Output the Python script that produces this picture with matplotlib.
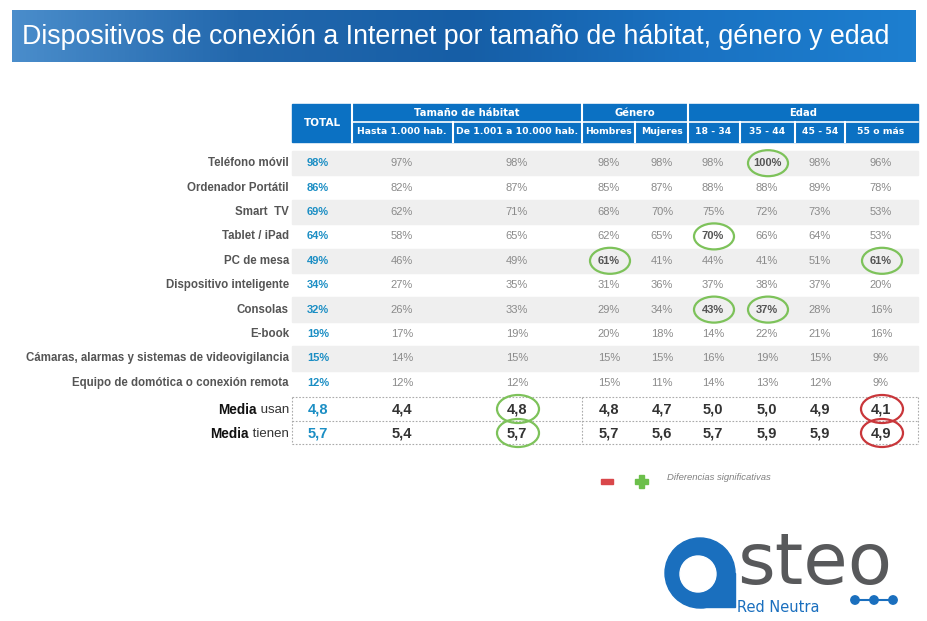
import numpy as np
import matplotlib.pyplot as plt
from matplotlib.patches import Rectangle, Ellipse, Circle
from matplotlib.colors import LinearSegmentedColormap

# Datos de la tabla
title = 'Dispositivos de conexión a Internet por tamaño de hábitat, género y edad'
groups = ['Tamaño de hábitat', 'Género', 'Edad']
subcols = ['Hasta 1.000 hab.', 'De 1.001 a 10.000 hab.', 'Hombres', 'Mujeres',
           '18 - 34', '35 - 44', '45 - 54', '55 o más']
rows = ['Teléfono móvil', 'Ordenador Portátil', 'Smart  TV', 'Tablet / iPad', 'PC de mesa',
        'Dispositivo inteligente', 'Consolas', 'E-book',
        'Cámaras, alarmas y sistemas de videovigilancia', 'Equipo de domótica o conexión remota']
total = [98, 86, 69, 64, 49, 34, 32, 19, 15, 12]
hasta_1000 = [97, 82, 62, 58, 46, 27, 26, 17, 14, 12]
de_1001 = [98, 87, 71, 65, 49, 35, 33, 19, 15, 12]
hombres = [98, 85, 68, 62, 61, 31, 29, 20, 15, 15]
mujeres = [98, 87, 70, 65, 41, 36, 34, 18, 15, 11]
edad_18_34 = [98, 88, 75, 70, 44, 37, 43, 14, 16, 14]
edad_35_44 = [100, 88, 72, 66, 41, 38, 37, 22, 19, 13]
edad_45_54 = [98, 89, 73, 64, 51, 37, 28, 21, 15, 12]
edad_55 = [96, 78, 53, 53, 61, 20, 16, 16, 9, 9]
media_usan = [4.8, 4.4, 4.8, 4.8, 4.7, 5.0, 5.0, 4.9, 4.1]
media_tienen = [5.7, 5.4, 5.7, 5.7, 5.6, 5.7, 5.9, 5.9, 4.9]
# diferencias significativas: (fila, columna, signo)
marcas = [(0, 6, '+'), (3, 5, '+'), (4, 3, '+'), (4, 8, '+'), (6, 5, '+'), (6, 6, '+'),
          (10, 2, '+'), (11, 2, '+'), (10, 8, '-'), (11, 8, '-')]

data = np.array([total, hasta_1000, de_1001, hombres, mujeres,
                 edad_18_34, edad_35_44, edad_45_54, edad_55]).T

# Geometria (pixeles)
edges = [292, 352, 453, 582, 635, 688, 740, 795, 845, 918]
centers = [318, 402, 517, 609, 662, 713, 767, 820, 881]
row_top, row_h = 151, 24.4
blue = '#0b71c3'
logo_blue = '#1a6fbe'

fig = plt.figure(figsize=(9.28, 6.21), dpi=100)
ax = fig.add_axes([0, 0, 1, 1])
ax.set_xlim(0, 928)
ax.set_ylim(621, 0)
ax.axis('off')

# Banner del titulo
cmap = LinearSegmentedColormap.from_list('banner', ['#4a8dcb', '#2368ad', '#165ea6', '#1a72c2', '#1d7fd0'])
ax.imshow(np.linspace(0, 1, 256)[None, :], cmap=cmap, aspect='auto',
          extent=(12, 916, 62, 10), zorder=1)
t_title = ax.text(22, 37, title, color='white', fontsize=16, family='Liberation Sans',
                  ha='left', va='center', zorder=2)

# Cabecera
ax.add_patch(Rectangle((edges[0], 104), edges[-1] - edges[0], 38, color=blue, zorder=1))
ax.text(322, 123, 'TOTAL', color='white', fontsize=7.5, fontweight='bold',
        ha='center', va='center', family='DejaVu Sans')
for g, (a, b) in zip(groups, [(352, 582), (582, 688), (688, 918)]):
    ax.text((a + b) / 2, 113, g, color='white', fontsize=7.2, fontweight='bold',
            ha='center', va='center', family='DejaVu Sans')
for s, x in zip(subcols, centers[1:]):
    ax.text(x, 132, s, color='white', fontsize=6.7, fontweight='bold',
            ha='center', va='center', family='DejaVu Sans')
ax.plot([352, 918], [122, 122], color='white', lw=1.2)
for x in edges[1:-1]:
    top = 104 if x in (352, 582, 688) else 122
    ax.plot([x, x], [top, 142], color='white', lw=1.5)

# Filas de datos
for i, lab in enumerate(rows):
    yc = row_top + row_h * (i + 0.5)
    if i % 2 == 0:
        ax.add_patch(Rectangle((292, row_top + row_h * i), 626, row_h, color='#efefef', zorder=0))
    ax.text(289, yc, lab, color='#555555', fontsize=8.3, fontweight='bold',
            ha='right', va='center', family='Liberation Sans')
    for j, v in enumerate(data[i]):
        circled = any(m[0] == i and m[1] == j for m in marcas)
        if j == 0:
            c, w = '#1b8ec4', 'bold'
        elif circled:
            c, w = '#555555', 'bold'
        else:
            c, w = '#8a8a8a', 'normal'
        ax.text(centers[j], yc, f'{v}%', color=c, fontsize=8, fontweight=w,
                ha='center', va='center', family='Liberation Sans')

# Medias
media_rows = [('usan', media_usan), ('tienen', media_tienen)]
for k, (word, vals) in enumerate(media_rows):
    yc = 409 + 24 * k
    tw = ax.text(289, yc + 1, ' ' + word, color='#333333', fontsize=9.5, ha='right', va='center',
                 family='Liberation Sans')
    ax.annotate('Media', xy=(0, 0.5), xycoords=tw, ha='right', va='center',
                color='#111111', fontsize=9.8, fontweight='bold', family='Liberation Sans')
    for j, v in enumerate(vals):
        c = '#1b8ec4' if j == 0 else '#333333'
        ax.text(centers[j], yc, f'{v:.1f}'.replace('.', ','), color=c, fontsize=10.5,
                fontweight='bold', ha='center', va='center', family='Liberation Sans')
dash = dict(color='#aaaaaa', lw=0.8, ls=(0, (1.5, 1.5)))
for y in (397, 421, 444):
    ax.plot([292, 918], [y, y], **dash)
for x in (292, 582, 918):
    ax.plot([x, x], [397, 444], **dash)

# Circulos de diferencias significativas
for r, col, sign in marcas:
    ec = '#7dc25a' if sign == '+' else '#c9363a'
    if r < 10:
        yc, w, h = row_top + row_h * (r + 0.5), 40, 26
    else:
        yc, w, h = 409 + 24 * (r - 10), 42, 28
    ax.add_patch(Ellipse((centers[col] + 1, yc), w, h, fill=False, ec=ec, lw=1.6, zorder=3))

# Leyenda
ax.add_patch(Rectangle((601, 479), 12, 5, color='#d9474a'))
ax.add_patch(Rectangle((635, 478.5), 13, 5, color='#6cbf4b'))
ax.add_patch(Rectangle((639, 474.5), 5, 13, color='#6cbf4b'))
ax.text(667, 478, 'Diferencias significativas', color='#808080', fontsize=6.8,
        style='italic', ha='left', va='center', family='Liberation Sans')

# Logo
ax.add_patch(Circle((700, 573), 35, color=logo_blue, zorder=2))
ax.add_patch(Rectangle((700, 573), 35, 34, color=logo_blue, zorder=2))
ax.add_patch(Circle((698, 574), 18, color='white', zorder=3))
t_steo = ax.text(737, 584, 'steo', color='#58595b', fontsize=50, family='DejaVu Sans',
                 ha='left', va='baseline')
t_red = ax.text(737, 594, 'Red Neutra', color=logo_blue, fontsize=10.5, family='DejaVu Sans',
                ha='left', va='top')
ax.plot([855, 893], [600, 600], color=logo_blue, lw=1.5)
for x in (855, 874, 893):
    ax.add_patch(Circle((x, 600), 4.2, color=logo_blue, zorder=3))

# Ajuste de anchos de texto
fig.canvas.draw()
for t, target in ((t_title, 868), (t_steo, 155)):
    wbox = t.get_window_extent().width
    t.set_fontsize(t.get_fontsize() * target / wbox)
fig.canvas.draw()
# "Red Neutra" justo debajo de la caja de "steo"
bottom = ax.transData.inverted().transform((0, t_steo.get_window_extent().y0))[1]
t_red.set_y(bottom + 0.5)

fig.savefig('out.png', dpi=100, facecolor='white')
